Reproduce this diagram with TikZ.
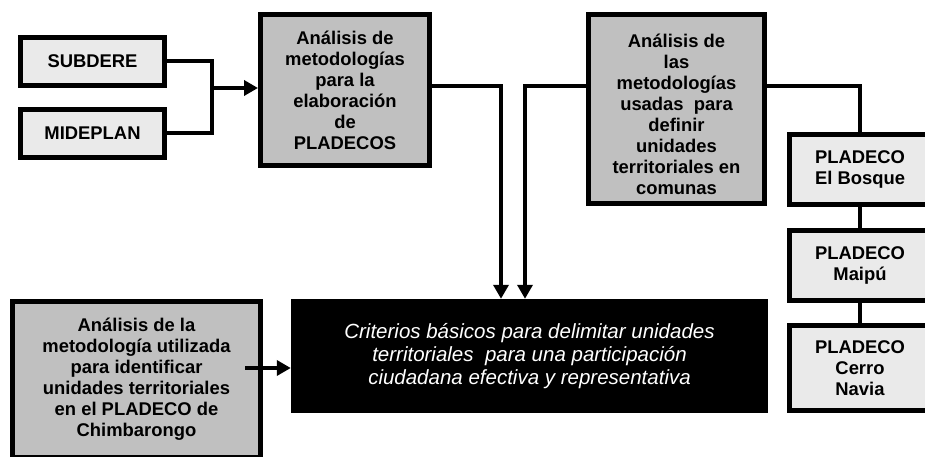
\documentclass[tikz,border=0pt]{standalone}
\usepackage{fontspec}
\setmainfont{Liberation Sans}
\usetikzlibrary{arrows.meta}
\definecolor{lightbox}{HTML}{EAEAEA}
\definecolor{midbox}{HTML}{C0C0C0}
\begin{document}
\begin{tikzpicture}[x=1pt,y=-1pt,
 boxbase/.style={draw=black, line width=5pt, inner sep=0pt, align=center, font=\fontsize{18.4}{21}\selectfont\bfseries},
 lightnode/.style={boxbase, fill=lightbox},
 darknode/.style={boxbase, fill=midbox},
 critnode/.style={fill=black, inner sep=0pt, align=center, text=white, font=\fontsize{20.5}{23.3}\selectfont\itshape},
 link/.style={line width=4pt, line join=miter},
 arr/.style={link, -{Triangle[length=14pt,width=15pt]}}]
\useasboundingbox (0,0) rectangle (925,457);
\fill[white] (0,0) rectangle (925,457);
\node[lightnode, minimum width=144pt, minimum height=48pt] (sub) at (92.5,61.5) {SUBDERE};
\node[lightnode, minimum width=144pt, minimum height=48pt] (mid) at (92.5,133.5) {MIDEPLAN};
\node[darknode, minimum width=169pt, minimum height=151pt] (met) at (345,90) {Análisis de\\metodologías\\para la\\elaboración\\de\\PLADECOS};
\node[darknode, minimum width=176pt, minimum height=189pt] (usa) at (676.5,109) {\rule{0pt}{24pt}Análisis de\\las\\metodologías\\usadas\ \ para\\definir\\unidades\\territoriales en\\comunas};
\node[lightnode, minimum width=141pt, minimum height=70pt] (bos) at (860,169.5) {PLADECO\\El Bosque};
\node[lightnode, minimum width=141pt, minimum height=70pt] (mai) at (860,265.5) {PLADECO\\Maipú};
\node[lightnode, minimum width=141pt, minimum height=85pt] (cer) at (860,368) {PLADECO\\Cerro\\Navia};
\node[critnode, minimum width=477pt, minimum height=114pt] (crit) at (529.5,356) {Criterios básicos para delimitar unidades\\territoriales\ \ para una participación\\ciudadana efectiva y representativa};
\node[darknode, minimum width=248pt, minimum height=156pt] (chim) at (136.5,379.5) {Análisis de la\\metodología utilizada\\para identificar\\unidades territoriales\\en el PLADECO de\\Chimbarongo};
\coordinate (ja) at (212,88);
\coordinate (jb) at (501,86);
\coordinate (jc) at (525,86);
\coordinate (jd) at (245,368);
\draw[link] (sub.east) -- (sub.east -| ja) -- (mid.east -| ja) -- (mid.east);
\draw[arr] (ja) -- (ja -| met.west);
\draw[arr] (met.east |- jb) -- (jb) -- (jb |- crit.north);
\draw[arr] (usa.west |- jc) -- (jc) -- (jc |- crit.north);
\draw[link] (usa.east |- jb) -- (bos.north |- jb) -- (bos.north);
\draw[link] (bos.south) -- (mai.north);
\draw[link] (mai.south) -- (cer.north);
\draw[arr] (jd) -- (jd -| crit.west);
\end{tikzpicture}
\end{document}
